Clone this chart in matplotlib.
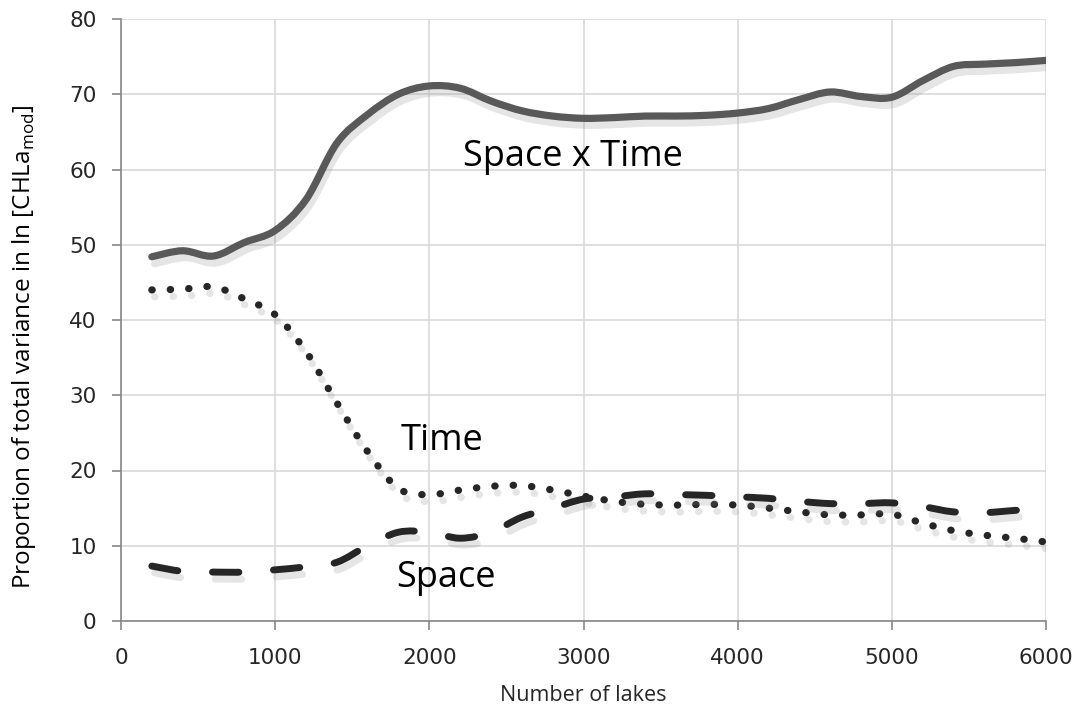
import numpy as np
import matplotlib
matplotlib.use("Agg")
import matplotlib.pyplot as plt
from matplotlib.path import Path
from matplotlib.patches import PathPatch
import matplotlib.patheffects as pe

# data (number of lakes vs proportion of variance)
lakes = [200, 400, 600, 800, 1000, 1200, 1400, 1600, 1800, 2000,
         2200, 2400, 2600, 2800, 3000, 3200, 3400, 3600, 3800, 4000,
         4200, 4400, 4600, 4800, 5000, 5200, 5400, 5600, 5800, 6000]
space_x_time = [48.4, 49.2, 48.5, 50.3, 51.9, 56.0, 63.5, 67.3, 70.0, 71.1,
                70.8, 69.1, 67.8, 67.1, 66.8, 66.9, 67.1, 67.1, 67.2, 67.5,
                68.1, 69.3, 70.3, 69.7, 69.6, 71.8, 73.7, 74.0, 74.2, 74.5]
time_part = [44.0, 44.1, 44.4, 42.8, 40.7, 35.8, 29.0, 22.5, 17.6, 16.8,
             17.4, 17.9, 18.0, 17.4, 16.6, 15.9, 15.5, 15.4, 15.5, 15.4,
             15.0, 14.5, 14.1, 14.1, 14.2, 13.0, 12.0, 11.4, 11.0, 10.5]
space_part = [7.3, 6.6, 6.5, 6.5, 6.8, 7.2, 7.8, 10.0, 11.8, 11.8,
              11.0, 11.8, 13.8, 15.0, 16.2, 16.5, 16.9, 16.8, 16.7, 16.5,
              16.3, 15.9, 15.6, 15.6, 15.7, 15.2, 14.5, 14.4, 14.7, 15.0]

labels = ["Space x Time", "Time", "Space"]
label_xy = [(2930, 61.7), (2080, 23.9), (2110, 5.7)]

xticks = [0, 1000, 2000, 3000, 4000, 5000, 6000]
yticks = [0, 10, 20, 30, 40, 50, 60, 70, 80]


def smooth_path(xs, ys, t=1/6):
    # excel style smoothed line: bezier segments through each point
    xs = np.asarray(xs, float)
    ys = np.asarray(ys, float)
    n = len(xs)
    verts = [(xs[0], ys[0])]
    codes = [Path.MOVETO]
    for i in range(n - 1):
        i0 = max(i - 1, 0)
        i3 = min(i + 2, n - 1)
        c1 = (xs[i] + (xs[i + 1] - xs[i0]) * t, ys[i] + (ys[i + 1] - ys[i0]) * t)
        c2 = (xs[i + 1] - (xs[i3] - xs[i]) * t, ys[i + 1] - (ys[i3] - ys[i]) * t)
        verts += [c1, c2, (xs[i + 1], ys[i + 1])]
        codes += [Path.CURVE4] * 3
    return Path(verts, codes)


fig = plt.figure(figsize=(10.84, 7.13), dpi=100)
ax = fig.add_axes([121 / 1084, (713 - 621) / 713, 925 / 1084, 602 / 713])

shadow = [pe.SimpleLineShadow(offset=(2, -5), shadow_color="#808080", alpha=0.2), pe.Normal()]

ax.add_patch(PathPatch(smooth_path(lakes, space_x_time), fill=False, edgecolor="#595959",
                       lw=5.2, capstyle="round", joinstyle="round", path_effects=shadow, zorder=3))
ax.add_patch(PathPatch(smooth_path(lakes, time_part), fill=False, edgecolor="#262626",
                       lw=5.2, linestyle=(0, (0.05, 2.5)), capstyle="round", path_effects=shadow, zorder=3))
ax.add_patch(PathPatch(smooth_path(lakes, space_part), fill=False, edgecolor="#262626",
                       lw=5.0, linestyle=(0, (3.8, 5.0)), capstyle="round", path_effects=shadow, zorder=3))

narrow = ["Liberation Sans Narrow", "Open Sans", "DejaVu Sans"]
for txt, (lx, ly) in zip(labels, label_xy):
    ax.text(lx, ly, txt, ha="center", va="center", fontsize=26, family=narrow, color="black")

ax.set_xlim(0, 6000)
ax.set_ylim(0, 80)
ax.set_xticks(xticks)
ax.set_yticks(yticks)
ax.grid(True, color="#d9d9d9", lw=1.2)
ax.set_axisbelow(True)
for side in ["top", "right"]:
    ax.spines[side].set_visible(False)
for side in ["left", "bottom"]:
    ax.spines[side].set_color("#868686")
    ax.spines[side].set_linewidth(1.2)
ax.tick_params(colors="#868686", length=6.5, width=1.2, labelcolor="#262626", labelsize=15.5)
ax.tick_params(axis="x", pad=13)
ax.tick_params(axis="y", pad=11)
for lab in ax.get_xticklabels() + ax.get_yticklabels():
    lab.set_family(["Verdana", "DejaVu Sans"])

ax.set_xlabel("Number of lakes", fontsize=15.5, family=narrow, color="#262626")
ax.xaxis.set_label_coords(0.5, -0.106)
ax.set_ylabel(r"Proportion of total variance in ln [CHLa$_{\mathregular{mod}}$]", fontsize=17.5,
              family=narrow, color="#000000")
ax.yaxis.set_label_coords(-0.09, 0.455)

fig.savefig("out.png", dpi=100)
